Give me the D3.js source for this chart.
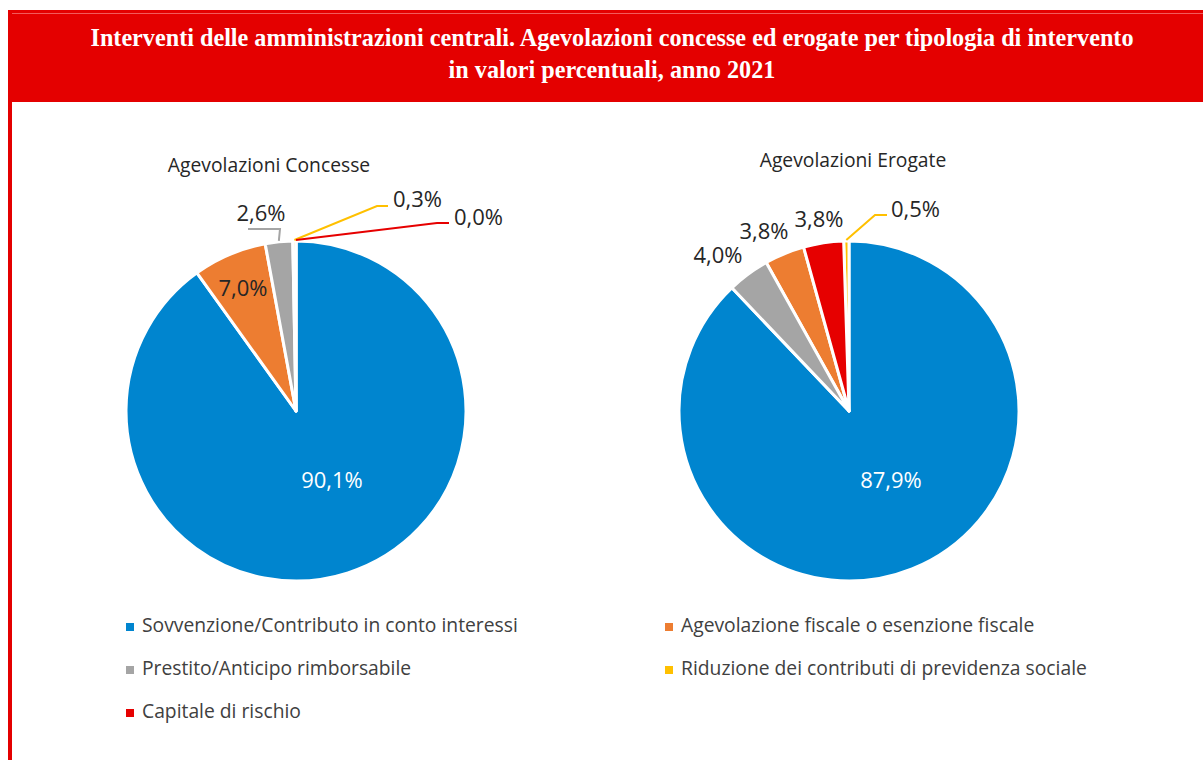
<!DOCTYPE html>
<html lang="it">
<head>
<meta charset="utf-8">
<script src="https://cdn.jsdelivr.net/npm/d3@7"></script>
<style>
  html, body { margin: 0; padding: 0; background: #fff; }
  svg { display: block; }
</style>
</head>
<body>
<svg id="chart" width="1203" height="760"></svg>
<script>
// ---- Data -------------------------------------------------------------
const titleLines = [
  "Interventi delle amministrazioni centrali. Agevolazioni concesse ed erogate per tipologia di intervento",
  "in valori percentuali, anno 2021"
];
const categories = [
  "Sovvenzione/Contributo in conto interessi",
  "Agevolazione fiscale o esenzione fiscale",
  "Prestito/Anticipo rimborsabile",
  "Riduzione dei contributi di previdenza sociale",
  "Capitale di rischio"
];
const pieTitles = ["Agevolazioni Concesse", "Agevolazioni Erogate"];
const concesse = [90.1, 7.0, 2.6, 0.3, 0.0];
const erogate  = [87.9, 3.8, 4.0, 0.5, 3.8];
const seriesColors = ["#0085CF", "#ED7D31", "#A5A5A5", "#FFC000", "#E60000"];

// ---- Layout -----------------------------------------------------------
const W = 1203, H = 760;
const R = 170;
const fmt = v => d3.format(".1f")(v).replace(".", ",") + "%";

// Label placement per category (relative to pie centre).
// type "in": text at (x,y); "out": text at (x,y); "lead": leader line via elbow to text.
const pieLayouts = [
  {
    cx: 296, cy: 411, title: { x: 269, y: 172 },
    labels: [
      { type: "in",  x: 36,  y: 69,  fill: "#fff" },
      { type: "in",  x: -53, y: -123 },
      { type: "lead", elbow: [-16, -182], end: [-48, -182], anchor: "middle", x: -35, y: -198 },
      { type: "lead", elbow: [81, -205], end: [92, -205], anchor: "start", x: 97, y: -212 },
      { type: "lead", elbow: [141, -188], end: [153, -188], anchor: "start", x: 158, y: -194 }
    ]
  },
  {
    cx: 849, cy: 411, title: { x: 853, y: 167 },
    labels: [
      { type: "in",  x: 42,  y: 69,  fill: "#fff" },
      { type: "out", x: -85, y: -180 },
      { type: "out", x: -131, y: -156 },
      { type: "lead", elbow: [26, -196], end: [38, -196], anchor: "start", x: 42, y: -202 },
      { type: "out", x: -30, y: -192 }
    ]
  }
];

const svg = d3.select("#chart");

// ---- Header band ------------------------------------------------------
svg.append("rect").attr("x", 8).attr("y", 10).attr("width", W - 8).attr("height", 92)
  .attr("fill", "#E40000");
svg.append("line").attr("x1", 12).attr("x2", W).attr("y1", 13.5).attr("y2", 13.5)
  .attr("stroke", "#F25A5A").attr("stroke-width", 1);
svg.append("rect").attr("x", 8).attr("y", 102).attr("width", 4).attr("height", H - 102)
  .attr("fill", "#E40000");

svg.append("g").selectAll("text").data(titleLines).join("text")
  .attr("x", 612).attr("y", (d, i) => 46 + i * 32)
  .attr("text-anchor", "middle")
  .attr("font-family", "'Liberation Serif', 'DejaVu Serif', serif")
  .attr("font-weight", "bold")
  .attr("font-size", 24.2)
  .attr("fill", "#fff")
  .text(d => d);

// ---- Pies ---------------------------------------------------------------
const pie = d3.pie().value(d => d.value);   // default: sorted by value, descending
const arc = d3.arc().innerRadius(0).outerRadius(R);
const color = d3.scaleOrdinal().domain(categories).range(seriesColors);

[concesse, erogate].forEach((values, p) => {
  const L = pieLayouts[p];
  const rows = categories.map((c, i) => ({ cat: c, idx: i, value: values[i] }));
  const arcs = pie(rows);
  const g = svg.append("g").attr("transform", `translate(${L.cx},${L.cy})`);

  g.selectAll("path").data(arcs).join("path")
    .attr("d", arc)
    .attr("fill", d => color(d.data.cat))
    .attr("stroke", "#fff")
    .attr("stroke-width", 3)
    .attr("stroke-linejoin", "round");

  svg.append("text")
    .attr("x", L.title.x).attr("y", L.title.y)
    .attr("text-anchor", "middle")
    .attr("font-family", "'Open Sans', sans-serif")
    .attr("font-size", 19.3)
    .attr("fill", "#262626")
    .text(pieTitles[p]);

  arcs.forEach(a => {
    const spec = L.labels[a.data.idx];
    if (spec.type === "lead") {
      const mid = (a.startAngle + a.endAngle) / 2;
      const start = [Math.sin(mid) * (R + 1), -Math.cos(mid) * (R + 1)];
      g.append("polyline")
        .attr("points", [start, spec.elbow, spec.end].map(pt => pt.join(",")).join(" "))
        .attr("fill", "none")
        .attr("stroke", color(a.data.cat))
        .attr("stroke-width", 2);
    }
    g.append("text")
      .attr("x", spec.x).attr("y", spec.y)
      .attr("dy", "0.36em")
      .attr("text-anchor", spec.anchor || "middle")
      .attr("font-family", "'Open Sans', sans-serif")
      .attr("font-size", 22)
      .attr("fill", spec.fill || "#262626")
      .text(fmt(a.data.value));
  });
});

// ---- Legend -------------------------------------------------------------
const legendCols = [126, 665];
const legendRows = [632, 675, 718];
const leg = svg.append("g").selectAll("g").data(categories).join("g")
  .attr("transform", (d, i) => `translate(${legendCols[i % 2]},${legendRows[Math.floor(i / 2)]})`);
leg.append("rect").attr("x", 0).attr("y", -9).attr("width", 8).attr("height", 8)
  .attr("fill", d => color(d));
leg.append("text").attr("x", 16).attr("y", 0)
  .attr("font-family", "'Open Sans', sans-serif")
  .attr("font-size", 19.3)
  .attr("fill", "#404040")
  .text(d => d);
</script>
</body>
</html>
